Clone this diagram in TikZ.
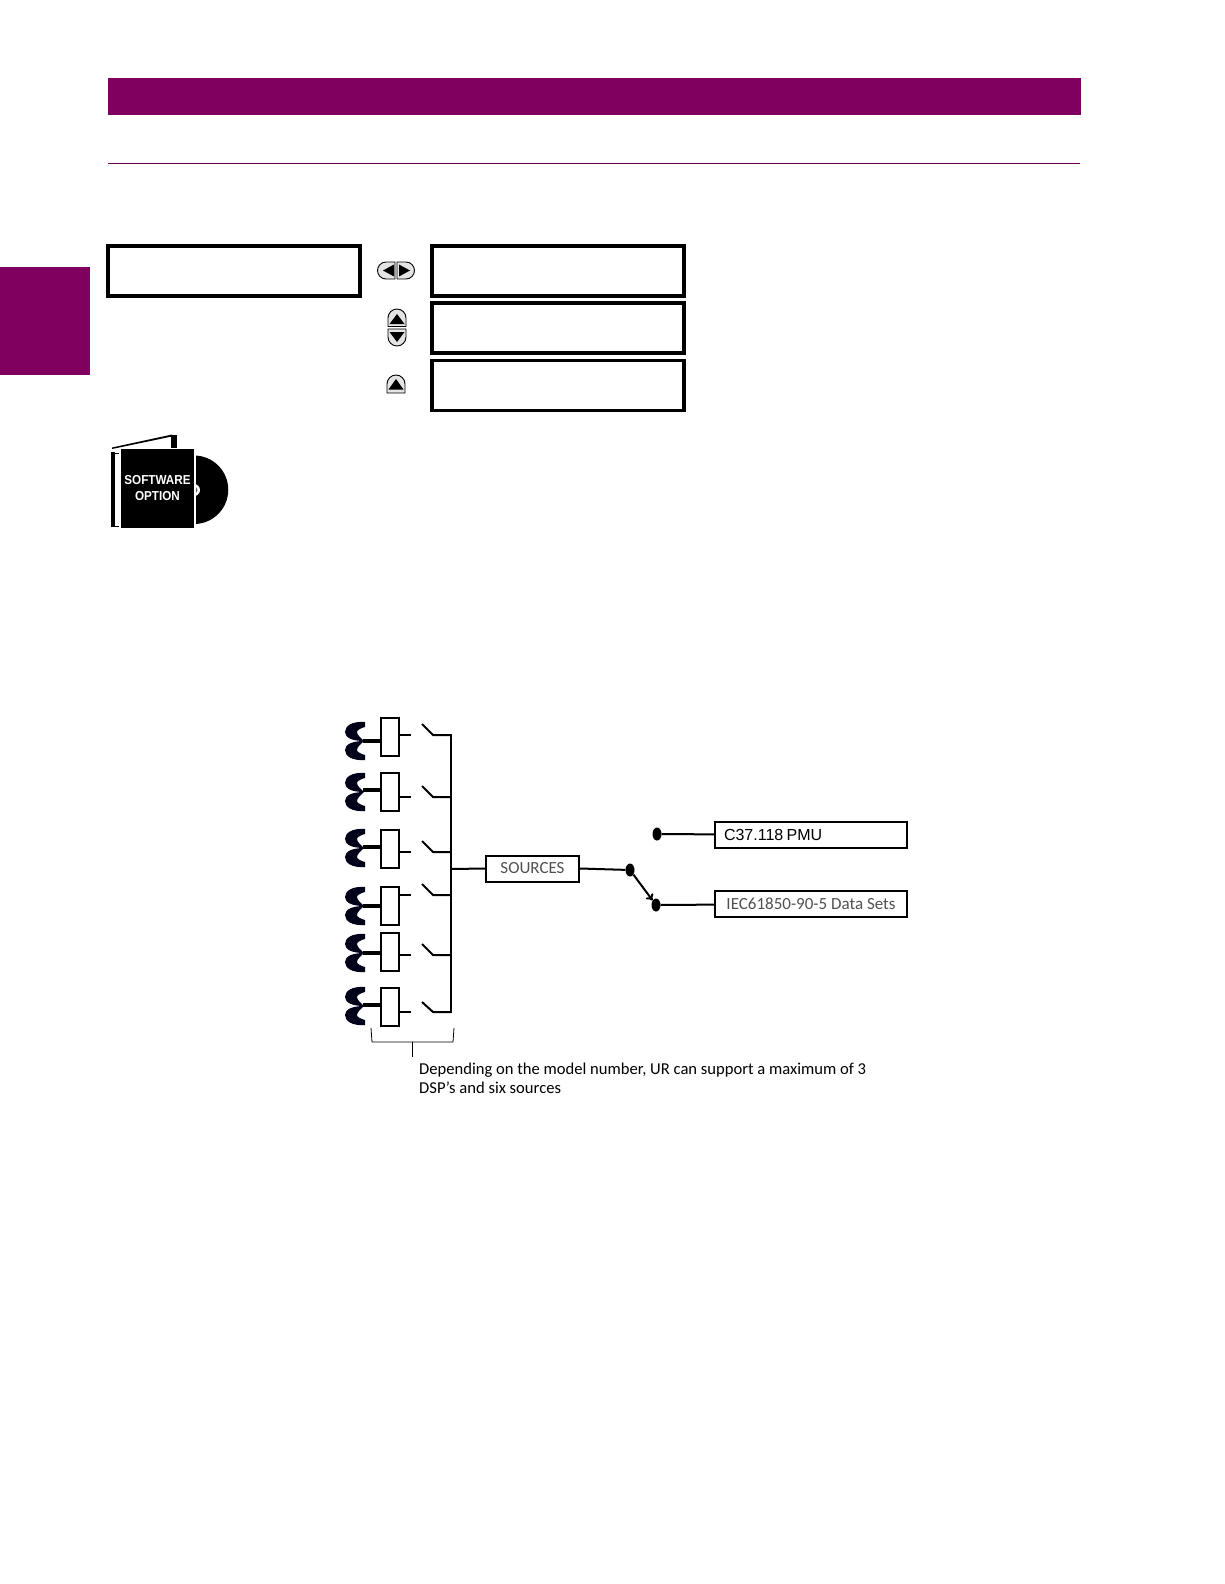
\documentclass[tikz,border=0pt]{standalone}
\usepackage{fontspec}
\usetikzlibrary{shapes.geometric,arrows.meta}
\setmainfont{Carlito}
\newfontfamily\arialfont{Liberation Sans}
\newfontfamily\iconfont[FakeStretch=0.9]{Liberation Sans}
\definecolor{gepurple}{HTML}{7F005F}
\definecolor{labelgrey}{HTML}{505050}
\definecolor{keygrey}{HTML}{E4E4E4}
\tikzset{
  lcdbox/.style={draw, line width=3.8pt, anchor=north west, inner sep=0pt, minimum width=252pt, minimum height=50pt},
  ctbox/.style={draw, line width=2pt, minimum width=18pt, minimum height=38pt, inner sep=0pt},
  outbox/.style={draw, line width=2pt, minimum width=192pt, minimum height=26pt, inner sep=0pt},
  dot/.style={fill, ellipse, minimum width=9pt, minimum height=13pt, inner sep=0pt},
  wire/.style={line width=2pt},
  stub/.style={line width=1.4pt},
  ctlead/.style={line width=3.4pt},
  keybtn/.style={draw, line width=0.9pt, fill=keygrey}
}
\newcommand{\ctcoil}[1]{%
  \fill[black!90!blue,shift={(#1)}] (20,-19) .. controls (7,-20) and (0,-15) .. (0,-9)
    .. controls (0,-3) and (8,0) .. (19,0) .. controls (16,-3) and (12,-6) .. (12,-9)
    .. controls (12,-11) and (16,-13) .. (20,-14) -- cycle;
  \fill[black!90!blue,shift={(#1)}] (20,19) .. controls (7,20) and (0,15) .. (0,9)
    .. controls (0,3) and (8,0) .. (19,0) .. controls (16,3) and (12,6) .. (12,9)
    .. controls (12,11) and (16,13) .. (20,14) -- cycle;
}
\begin{document}
\begin{tikzpicture}[x=1pt, y=-1pt]
\useasboundingbox (0,0) rectangle (1224,1584);

% page furniture
\fill[gepurple] (108,78) rectangle (1081,115);
\draw[gepurple!85!black, line width=1.7pt] (108,163.5) -- (1080,163.5);
\fill[gepurple] (0,267) rectangle (90,375);

% display boxes
\node[lcdbox] (main) at (106,244) {};
\node[lcdbox] (lcda) at (430,244) {};
\node[lcdbox] (lcdb) at (430,301) {};
\node[lcdbox] (lcdc) at (430,358.5) {};

% keys
\draw[keybtn] (395,262) -- (386,262) arc (-90:-270:8.5) -- (395,279) -- cycle;
\draw[keybtn] (397,262) -- (406,262) arc (-90:90:8.5) -- (397,279) -- cycle;
\fill (394,264.5) -- (394,276.5) -- (383,270.5) -- cycle;
\fill (399,264.5) -- (399,276.5) -- (410,270.5) -- cycle;
\draw[keybtn] (388,326.5) -- (388,318) arc (180:360:9) -- (406,326.5) -- cycle;
\draw[keybtn] (388,329) -- (388,337) arc (180:0:9) -- (406,329) -- cycle;
\fill (397,314) -- (404.5,324) -- (389.5,324) -- cycle;
\fill (397,342) -- (404.5,332) -- (389.5,332) -- cycle;
\draw[keybtn] (387,393) -- (387,384) arc (180:360:9) -- (405,393) -- cycle;
\fill (396,379) -- (403.5,389.5) -- (388.5,389.5) -- cycle;

% software icon
\fill (194,455.5) arc (-90:90:34.25) -- cycle;
\fill[white] (192,484) -- (194,484) arc (-90:90:6) -- (192,496) -- cycle;
\fill[black!60] (194,486.5) arc (-90:90:3.5) -- cycle;
\fill (111,452) rectangle (115,527);
\draw[line width=1pt] (115,453) -- (119,453);
\draw[line width=1pt] (115,526) -- (119,526);
\fill (171,435) rectangle (177,448);
\fill (112,447.5) -- (172,434.5) -- (172,436.5) -- (112,449) -- cycle;
\fill[white] (194,450) rectangle (196,530);
\node[fill, minimum width=73pt, minimum height=79pt, inner sep=0pt, text=white, align=center,
  font=\iconfont\bfseries\fontsize{13}{16.5}\selectfont] (swbox) at (157.5,488) {SOFTWARE\\OPTION};

% CT groups
\ctcoil{345,741}
\ctcoil{345,792}
\ctcoil{345,848}
\ctcoil{345,906}
\ctcoil{345,953}
\ctcoil{345,1006}
\node[ctbox] (cta) at (390,737) {};
\node[ctbox] (ctb) at (390,791.5) {};
\node[ctbox] (ctc) at (390,848.5) {};
\node[ctbox] (ctd) at (390,906) {};
\node[ctbox] (cte) at (390,952) {};
\node[ctbox] (ctf) at (390,1007) {};
\draw[ctlead] (363,741) -- (cta.west |- 0,741);
\draw[ctlead] (363,790) -- (ctb.west |- 0,790);
\draw[ctlead] (363,847) -- (ctc.west |- 0,847);
\draw[ctlead] (363,906) -- (ctd.west |- 0,906);
\draw[ctlead] (363,953) -- (cte.west |- 0,953);
\draw[ctlead] (363,1005) -- (ctf.west |- 0,1005);

% stubs and switches
\draw[stub] (cta.east |- 0,735) -- (411,735);
\draw[stub] (ctb.east |- 0,797) -- (411,797);
\draw[stub] (ctc.east |- 0,852) -- (411,852);
\draw[stub] (ctd.east |- 0,895) -- (411,895);
\draw[stub] (cte.east |- 0,955) -- (411,955);
\draw[stub] (ctf.east |- 0,1012) -- (411,1012);
\draw[wire] (422,724) -- (433,735) -- (451,735);
\draw[wire] (422,786) -- (433,797) -- (451,797);
\draw[wire] (422,841) -- (433,852) -- (451,852);
\draw[wire] (422,884) -- (433,895) -- (451,895);
\draw[wire] (422,944) -- (433,955) -- (451,955);
\draw[wire] (422,1002) -- (433,1012) -- (451,1012);
\draw[wire] (451,734) -- (451,1013);

% sources and outputs
\node[outbox, minimum width=93pt] (sources) at (532.5,868.5) {\fontsize{17}{20}\selectfont\color{labelgrey}SOURCES};
\node[outbox, text width=174pt, align=left] (pmu) at (811,835) {\arialfont\fontsize{16}{18}\selectfont C37.118 PMU};
\node[outbox] (iec) at (811,904) {\fontsize{17}{20}\selectfont\color{labelgrey}IEC61850-90-5 Data Sets};
\node[dot] (swin) at (630,870) {};
\node[dot] (swtop) at (657,834) {};
\node[dot] (swbot) at (656,905) {};
\draw[wire] (451,869) -- (sources.west);
\draw[wire] (sources.east) -- (swin);
\draw[wire] (swtop) -- (pmu);
\draw[wire] (swbot) -- (iec);
\draw[wire, -{To[length=6pt,width=9pt]}] (swin) -- (swbot);

% brace
\coordinate (bracel) at (371,1028);
\coordinate (bracer) at (454,1028);
\coordinate (bracetip) at (412,1057);
\draw[line width=0.8pt] (bracel) -- (372,1042) -- (453,1042) -- (bracer);
\draw[line width=0.8pt] (bracetip) -- (412,1042);
\node[anchor=north west, inner sep=0pt, align=left, font=\fontsize{16.6}{18.5}\selectfont] (note) at (419,1063)
  {Depending on the model number, UR can support a maximum of 3\\DSP's and six sources};
\end{tikzpicture}
\end{document}
